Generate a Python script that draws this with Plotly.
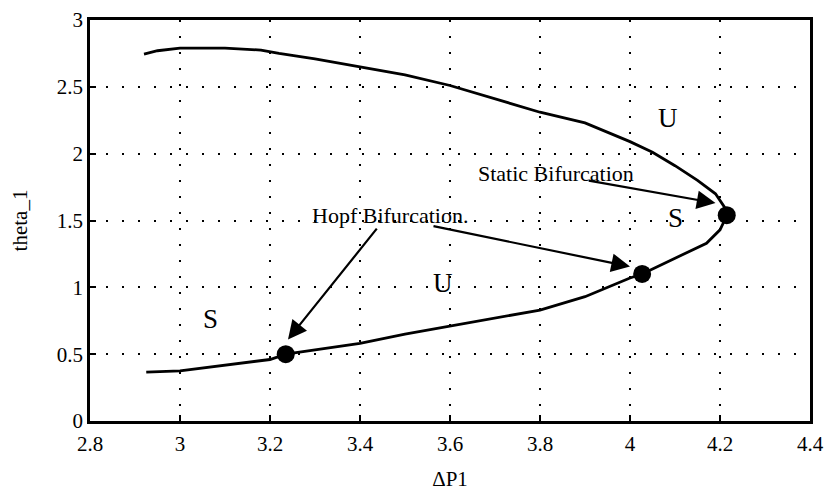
import plotly.graph_objects as go

# Upper branch (from left end to static bifurcation point), then lower branch back to left
curve_x = [2.92, 2.95, 3.0, 3.1, 3.18, 3.22, 3.3, 3.4, 3.5, 3.6, 3.7, 3.8, 3.9, 4.0, 4.05, 4.1, 4.15, 4.19, 4.21, 4.215,
           4.21, 4.2, 4.17, 4.1, 4.027, 4.0, 3.9, 3.8, 3.7, 3.6, 3.5, 3.4, 3.3, 3.235, 3.2, 3.1, 3.0, 2.925]
curve_y = [2.745, 2.77, 2.79, 2.79, 2.775, 2.75, 2.71, 2.65, 2.59, 2.51, 2.41, 2.31, 2.23, 2.09, 2.01, 1.91, 1.80, 1.70, 1.60, 1.54,
           1.50, 1.43, 1.33, 1.22, 1.10, 1.07, 0.93, 0.83, 0.77, 0.71, 0.65, 0.58, 0.53, 0.50, 0.46, 0.42, 0.375, 0.365]

point_x = [3.235, 4.027, 4.215]
point_y = [0.50, 1.10, 1.54]

region_labels = ["U", "S", "U", "S"]
region_x = [4.084, 4.10, 3.585, 3.067]
region_y = [2.27, 1.52, 1.03, 0.76]

xticks = [2.8, 3, 3.2, 3.4, 3.6, 3.8, 4, 4.2, 4.4]
xtick_text = ["2.8", "3", "3.2", "3.4", "3.6", "3.8", "4", "4.2", "4.4"]
yticks = [0, 0.5, 1, 1.5, 2, 2.5, 3]
ytick_text = ["0", "0.5", "1", "1.5", "2", "2.5", "3"]

FONT = "Liberation Serif, Times New Roman, serif"

fig = go.Figure()
fig.add_trace(go.Scatter(x=curve_x, y=curve_y, mode="lines",
                         line=dict(color="black", width=2.8), showlegend=False, hoverinfo="skip"))
fig.add_trace(go.Scatter(x=point_x, y=point_y, mode="markers",
                         marker=dict(color="black", size=18), showlegend=False))

for t, x, y in zip(region_labels, region_x, region_y):
    fig.add_annotation(x=x, y=y, text=t, showarrow=False,
                       font=dict(family=FONT, size=27, color="black"))

# Text labels
fig.add_annotation(x=3.835, y=1.855, text="Static Bifurcation", showarrow=False,
                   font=dict(family=FONT, size=22, color="black"))
fig.add_annotation(x=3.467, y=1.54, text="Hopf Bifurcation.", showarrow=False,
                   font=dict(family=FONT, size=22, color="black"))

# Arrows
arrows = [((3.905, 1.80), (4.19, 1.63)),
          ((3.44, 1.45), (3.24, 0.61)),
          ((3.56, 1.46), (4.0, 1.155))]
for (tx, ty), (hx, hy) in arrows:
    fig.add_annotation(x=hx, y=hy, ax=tx, ay=ty, xref="x", yref="y", axref="x", ayref="y",
                       text="", showarrow=True, arrowhead=2, arrowsize=1.7, arrowwidth=2.2,
                       arrowcolor="black", standoff=0)

axis_common = dict(showline=True, linecolor="black", linewidth=2.5, mirror=True,
                   ticks="inside", ticklen=6, tickcolor="black", tickwidth=1.5,
                   showgrid=True, gridcolor="black", gridwidth=1.8, griddash="2px,14px",
                   zeroline=False, automargin=False,
                   tickfont=dict(family=FONT, size=21, color="black"))

fig.update_xaxes(range=[2.8, 4.4], tickvals=xticks, ticktext=xtick_text, ticklabelstandoff=2,
                 title=dict(text="ΔP1", font=dict(family=FONT, size=21, color="black"), standoff=20),
                 **axis_common)
fig.update_yaxes(range=[0, 3], tickvals=yticks, ticktext=ytick_text,
                 title=dict(text="theta_1", font=dict(family=FONT, size=21, color="black"), standoff=24),
                 **axis_common)

fig.update_layout(width=825, height=491, margin=dict(l=90, r=15, t=20, b=70),
                  plot_bgcolor="white", paper_bgcolor="white")

# remove the default body margin so the figure fills the window exactly
fig.write_html("out.html", config={"displayModeBar": False},
               post_script="document.body.style.margin='0';")
